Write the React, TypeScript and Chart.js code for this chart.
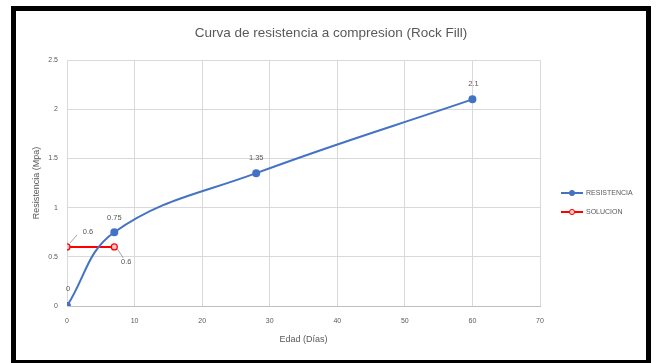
import React, { useEffect, useRef } from "react";
import { Chart, registerables } from "chart.js";

Chart.register(...registerables);

// Edad del ensayo (días) y resistencia a compresión medida (MPa)
const edadDias = [0, 7, 28, 60];
const resistencia = [0, 0.75, 1.35, 2.1];

// Recta de la solución: resistencia requerida entre 0 y 7 días
const solucionEdad = [0, 7];
const solucionValor = [0.6, 0.6];

const serieNombres = ["RESISTENCIA", "SOLUCION"];
const tituloGrafico = "Curva de resistencia a compresion (Rock Fill)";
const tituloX = "Edad (Días)";
const tituloY = "Resistencia (Mpa)";

const AZUL = "#4472C4";
const ROJO = "#FF0000";
const TEXTO = "#595959";
const FUENTE = "'Liberation Sans', Arial, sans-serif";

type Offset = { dx: number; dy: number; leader?: [number, number, number, number] };

// Desplazamiento de cada etiqueta de dato respecto de su punto
const offsetsResistencia: Offset[] = [
  { dx: 1, dy: -17 },
  { dx: 0, dy: -14 },
  { dx: 0, dy: -15 },
  { dx: 1, dy: -15 },
];
const offsetsSolucion: Offset[] = [
  { dx: 21, dy: -15, leader: [3, -4, 10, -12] },
  { dx: 12, dy: 15, leader: [3, 2, 9, 11] },
];

// Título centrado sobre todo el lienzo (no sólo sobre el área del gráfico)
const tituloPlugin = {
  id: "tituloCentrado",
  afterDraw(chart: any) {
    const ctx: CanvasRenderingContext2D = chart.ctx;
    ctx.save();
    ctx.font = `13.5px ${FUENTE}`;
    ctx.fillStyle = TEXTO;
    ctx.textAlign = "center";
    ctx.textBaseline = "middle";
    ctx.fillText(tituloGrafico, chart.width / 2, 22);
    ctx.restore();
  },
};

const etiquetasPlugin = {
  id: "etiquetasDatos",
  afterDatasetsDraw(chart: any) {
    const ctx: CanvasRenderingContext2D = chart.ctx;
    ctx.save();
    ctx.font = `7.5px ${FUENTE}`;
    ctx.textAlign = "center";
    ctx.textBaseline = "middle";
    chart.data.datasets.forEach((ds: any, i: number) => {
      const meta = chart.getDatasetMeta(i);
      const offs: Offset[] = ds.etiquetas || [];
      meta.data.forEach((pt: any, j: number) => {
        const o = offs[j] || { dx: 0, dy: -15 };
        const valor = ds.data[j].y;
        if (o.leader) {
          const [x1, y1, x2, y2] = o.leader;
          ctx.strokeStyle = "#8c8c8c";
          ctx.lineWidth = 0.8;
          ctx.beginPath();
          ctx.moveTo(pt.x + x1, pt.y + y1);
          ctx.lineTo(pt.x + x2, pt.y + y2);
          ctx.stroke();
        }
        ctx.fillStyle = TEXTO;
        ctx.fillText(String(valor), pt.x + o.dx, pt.y + o.dy);
      });
    });
    ctx.restore();
  },
};

// Leyenda a la derecha con línea y marcador, como en la hoja de cálculo
const leyendaPlugin = {
  id: "leyendaDerecha",
  afterDraw(chart: any) {
    const ctx: CanvasRenderingContext2D = chart.ctx;
    const area = chart.chartArea;
    const x0 = area.right + 21;
    const yBase = 182;
    ctx.save();
    ctx.font = `7px ${FUENTE}`;
    ctx.textAlign = "left";
    ctx.textBaseline = "middle";
    chart.data.datasets.forEach((ds: any, i: number) => {
      const y = yBase + i * 19;
      ctx.strokeStyle = ds.borderColor;
      ctx.lineWidth = 2;
      ctx.beginPath();
      ctx.moveTo(x0, y);
      ctx.lineTo(x0 + 22, y);
      ctx.stroke();
      ctx.beginPath();
      ctx.arc(x0 + 11, y, 2.6, 0, Math.PI * 2);
      ctx.fillStyle = ds.pointBackgroundColor;
      ctx.fill();
      ctx.lineWidth = 1;
      ctx.strokeStyle = ds.pointBorderColor;
      ctx.stroke();
      ctx.fillStyle = TEXTO;
      ctx.fillText(ds.label, x0 + 25, y);
    });
    ctx.restore();
  },
};

export default function App() {
  const canvasRef = useRef<HTMLCanvasElement | null>(null);

  useEffect(() => {
    if (!canvasRef.current) return;
    const chart = new Chart(canvasRef.current, {
      type: "line",
      data: {
        datasets: [
          {
            label: serieNombres[0],
            data: edadDias.map((x, i) => ({ x, y: resistencia[i] })),
            borderColor: AZUL,
            backgroundColor: AZUL,
            pointBackgroundColor: AZUL,
            pointBorderColor: AZUL,
            borderWidth: 2,
            pointRadius: 3,
            tension: 0.4,
            etiquetas: offsetsResistencia,
          } as any,
          {
            label: serieNombres[1],
            data: solucionEdad.map((x, i) => ({ x, y: solucionValor[i] })),
            borderColor: ROJO,
            backgroundColor: ROJO,
            pointBackgroundColor: "#ffc4c4",
            pointBorderColor: ROJO,
            pointBorderWidth: 1.2,
            borderWidth: 2,
            pointRadius: 3,
            tension: 0,
            etiquetas: offsetsSolucion,
          } as any,
        ],
      },
      options: {
        animation: false,
        responsive: false,
        maintainAspectRatio: false,
        layout: { padding: { left: 0, right: 106, top: 49, bottom: 9 } },
        plugins: {
          legend: { display: false },
          tooltip: { enabled: false },
          title: { display: false },
        },
        scales: {
          x: {
            type: "linear",
            min: 0,
            max: 70,
            ticks: {
              stepSize: 10,
              color: TEXTO,
              font: { family: FUENTE, size: 7 },
              padding: 11,
            },
            grid: { color: "#d9d9d9", drawTicks: false },
            border: { color: "#bfbfbf" },
            title: {
              display: true,
              text: tituloX,
              color: TEXTO,
              font: { family: FUENTE, size: 9 },
              padding: { top: 0, bottom: 6 },
            },
            afterFit(scale: any) {
              scale.height = 45;
            },
          },
          y: {
            min: 0,
            max: 2.5,
            ticks: {
              stepSize: 0.5,
              color: TEXTO,
              font: { family: FUENTE, size: 7 },
              padding: 9,
              callback: (v: any) => String(Number(v)),
            },
            grid: { color: "#d9d9d9", drawTicks: false },
            border: { color: "#d9d9d9" },
            title: {
              display: true,
              text: tituloY,
              color: TEXTO,
              font: { family: FUENTE, size: 9 },
              padding: { top: 15, bottom: 0 },
            },
            afterFit(scale: any) {
              scale.width = 51;
            },
          },
        },
      },
      plugins: [tituloPlugin, etiquetasPlugin, leyendaPlugin],
    });
    return () => chart.destroy();
  }, []);

  return (
    <div
      style={{
        position: "absolute",
        left: 11,
        top: 6,
        width: 640,
        height: 359,
        border: "5px solid #000",
        boxSizing: "border-box",
        background: "#fff",
      }}
    >
      <canvas
        ref={canvasRef}
        width={630}
        height={349}
        style={{ display: "block", width: 630, height: 349 }}
      />
    </div>
  );
}
